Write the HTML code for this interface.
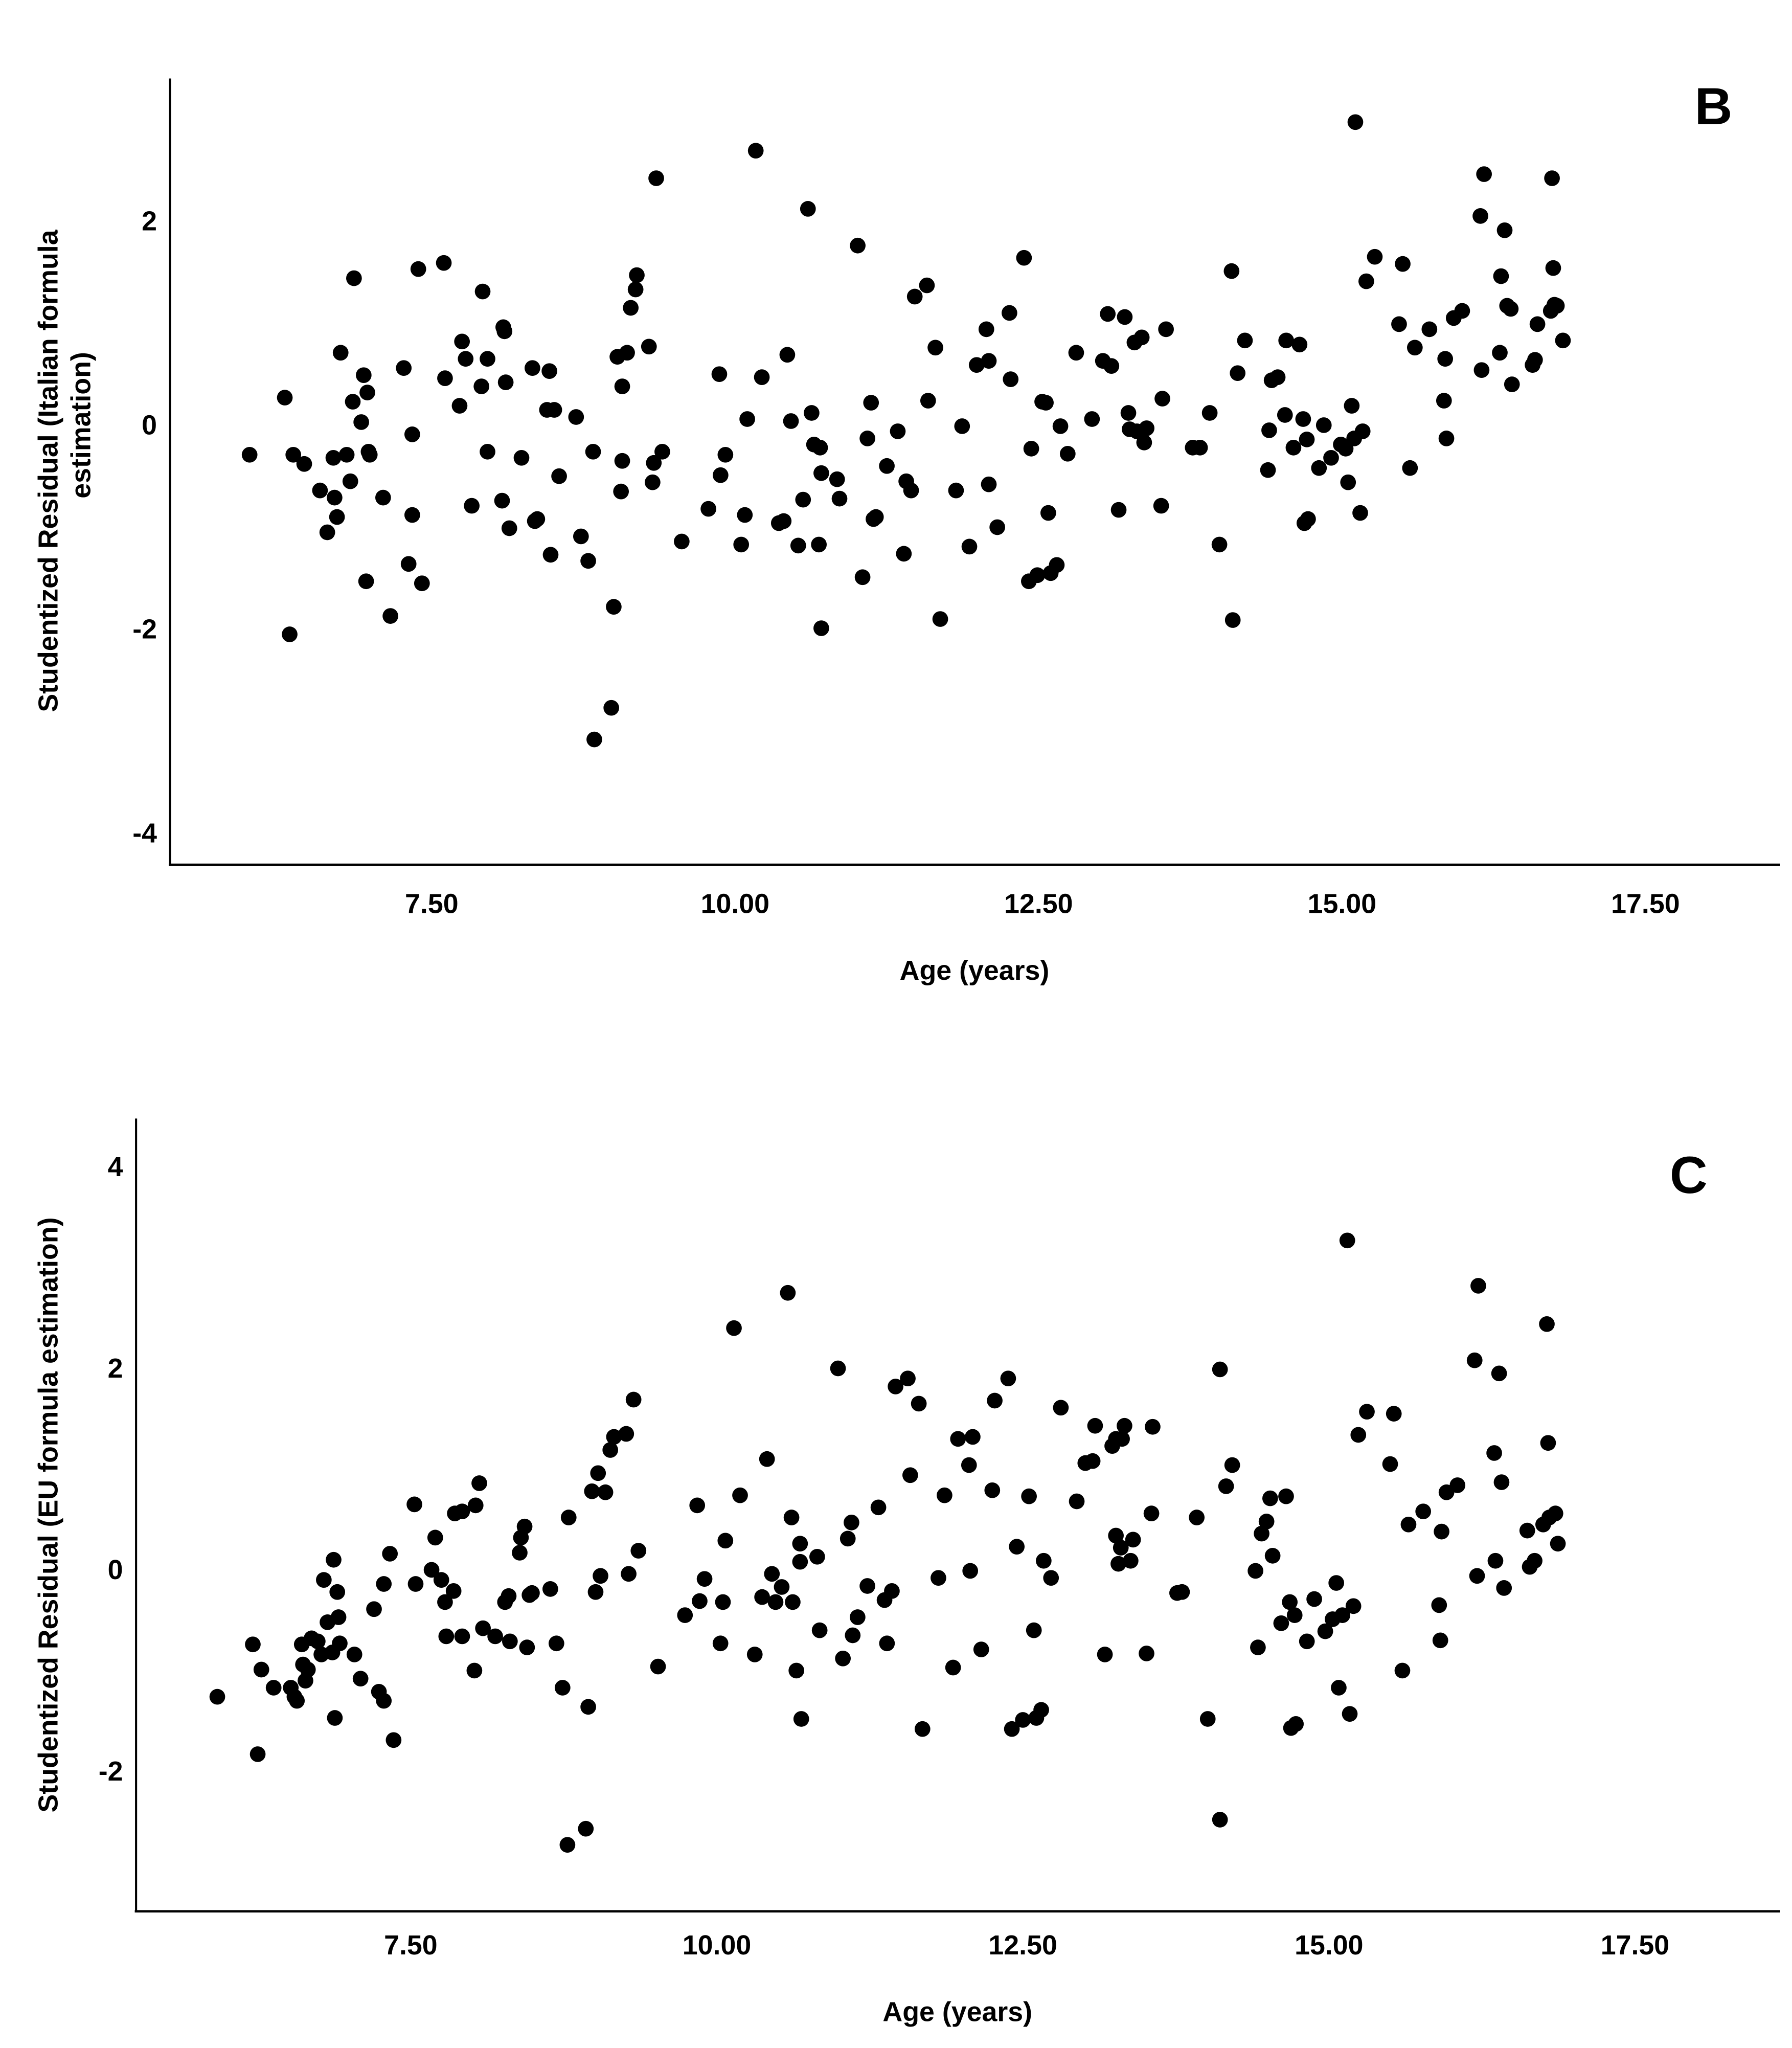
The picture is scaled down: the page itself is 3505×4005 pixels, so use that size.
<!DOCTYPE html>
<html><head><meta charset="utf-8"><style>
html,body{margin:0;padding:0;background:#fff}
svg{display:block}
text{font-family:"Liberation Sans",Arial,sans-serif;fill:#000;font-weight:bold}
</style></head><body>
<svg id="chart" width="3505" height="4005" viewBox="0 0 1370 1565.5" xmlns="http://www.w3.org/2000/svg">
<rect x="0" y="0" width="1370" height="1566" fill="#fff"/>
<g id="panelB">
<line x1="130" y1="60" x2="130" y2="661" stroke="#000" stroke-width="1.6"/>
<line x1="129" y1="661" x2="1361" y2="661" stroke="#000" stroke-width="1.8"/>
<text x="1310" y="95" font-size="40" font-weight="bold" text-anchor="middle">B</text>
<text x="745" y="749" font-size="21" text-anchor="middle">Age (years)</text>
<text transform="translate(44,360) rotate(-90)" font-size="21" text-anchor="middle">Studentized Residual (Italian formula</text>
<text transform="translate(69,325) rotate(-90)" font-size="21" text-anchor="middle">estimation)</text>
</g>
<g id="panelC">
<line x1="104" y1="855" x2="104" y2="1461" stroke="#000" stroke-width="1.6"/>
<line x1="103" y1="1461" x2="1361" y2="1461" stroke="#000" stroke-width="1.8"/>
<text x="1291" y="912" font-size="40" font-weight="bold" text-anchor="middle">C</text>
<text x="732" y="1545" font-size="21" text-anchor="middle">Age (years)</text>
<text transform="translate(44,1158) rotate(-90)" font-size="21" text-anchor="middle">Studentized Residual (EU formula estimation)</text>
</g>
</svg>
<script>
const xTicks=[7.5,10,12.5,15,17.5];
const xTickLabels=["7.50","10.00","12.50","15.00","17.50"];
const yTicksB=[2,0,-2,-4];
const yTicksC=[4,2,0,-2];
const ageB=[6.0,6.29,6.33,6.36,6.45,6.58,6.64,6.69,6.70,6.72,6.75,6.80,6.83,6.85,6.86,6.92,6.94,6.97,6.96,6.98,6.99,7.10,7.16,7.27,7.31,7.34,7.34,7.39,7.42,7.60,7.61,7.73,7.75,7.78,7.83,7.92,7.91,7.96,7.96,8.08,8.09,8.10,8.11,8.14,8.24,8.33,8.35,8.37,8.45,8.47,8.48,8.51,8.55,8.69,8.73,8.79,8.83,8.84,8.98,9.0,9.03,9.06,9.07,9.07,9.11,9.14,9.18,9.19,9.29,9.32,9.33,9.35,9.40,9.56,9.78,9.87,9.88,9.92,10.05,10.08,10.10,10.17,10.22,10.36,10.40,10.43,10.46,10.52,10.56,10.60,10.63,10.65,10.69,10.70,10.71,10.71,10.84,10.86,11.01,11.05,11.09,11.12,11.14,11.16,11.25,11.34,11.39,11.41,11.45,11.48,11.58,11.59,11.65,11.69,11.82,11.87,11.93,11.99,12.07,12.09,12.09,12.16,12.26,12.27,12.38,12.44,12.42,12.49,12.53,12.56,12.58,12.60,12.65,12.68,12.74,12.81,12.94,13.03,13.07,13.10,13.16,13.21,13.24,13.25,13.29,13.31,13.35,13.37,13.39,13.51,13.52,13.55,13.77,13.83,13.91,13.99,14.09,14.10,14.14,14.20,14.39,14.40,14.42,14.47,14.53,14.54,14.60,14.65,14.68,14.69,14.71,14.72,14.81,14.85,14.91,14.99,15.03,15.05,15.08,15.10,15.11,15.15,15.17,15.20,15.27,15.47,15.50,15.56,15.60,15.72,15.84,15.85,15.86,15.92,15.99,16.14,16.15,16.17,16.30,16.31,16.34,16.36,16.39,16.40,16.57,16.59,16.61,16.73,16.72,16.74,16.75,16.77,16.82];
const resB=[-0.29,0.27,-2.05,-0.29,-0.38,-0.64,-1.05,-0.32,-0.71,-0.9,0.71,-0.29,-0.55,0.23,1.44,0.03,0.49,0.32,-1.53,-0.26,-0.29,-0.71,-1.87,0.56,-1.36,-0.88,-0.09,1.53,-1.55,1.59,0.46,0.19,0.82,0.65,-0.79,1.31,0.38,0.65,-0.26,-0.74,0.96,0.92,0.42,-1.01,-0.32,0.56,-0.94,-0.92,0.15,0.53,-1.27,0.15,-0.5,0.08,-1.09,-1.33,-0.26,-3.08,-2.77,-1.78,0.67,-0.65,0.38,-0.35,0.71,1.15,1.33,1.47,0.77,-0.56,-0.37,2.42,-0.26,-1.14,-0.82,0.5,-0.49,-0.29,-1.17,-0.88,0.06,2.69,0.47,-0.96,-0.94,0.69,0.04,-1.18,-0.73,2.12,0.12,-0.19,-1.17,-0.22,-1.99,-0.47,-0.53,-0.72,1.76,-1.49,-0.13,0.22,-0.92,-0.9,-0.4,-0.06,-1.26,-0.55,-0.64,1.26,1.37,0.24,0.76,-1.9,-0.64,-0.01,-1.19,0.59,0.94,0.63,-0.58,-1.0,1.10,0.45,1.64,-0.23,-1.53,-1.47,0.23,0.22,-0.86,-1.45,-1.37,-0.01,-0.28,0.71,0.06,0.63,1.09,0.58,-0.83,1.06,0.12,-0.04,0.81,-0.06,0.86,-0.17,-0.03,-0.79,0.26,0.94,-0.22,-0.22,0.12,-1.17,1.51,-1.91,0.51,0.83,-0.44,-0.05,0.44,0.47,0.1,0.83,-0.22,0.79,0.06,-0.96,-0.14,-0.92,-0.42,0,-0.32,-0.19,-0.23,-0.56,0.19,-0.13,2.97,-0.86,-0.06,1.41,1.65,0.99,1.58,-0.42,0.76,0.94,0.24,0.65,-0.13,1.05,1.12,2.05,0.54,2.46,0.71,1.46,1.91,1.17,1.14,0.40,0.59,0.64,0.99,2.42,1.12,1.54,1.18,1.17,0.83];
const ageC=[5.92,6.21,6.25,6.28,6.38,6.52,6.55,6.57,6.61,6.62,6.64,6.66,6.69,6.74,6.77,6.79,6.82,6.86,6.87,6.88,6.90,6.91,6.92,7.04,7.09,7.20,7.24,7.28,7.28,7.33,7.36,7.53,7.54,7.67,7.70,7.75,7.78,7.79,7.85,7.86,7.92,7.92,8.02,8.03,8.06,8.09,8.19,8.27,8.30,8.31,8.39,8.40,8.43,8.45,8.47,8.49,8.64,8.69,8.74,8.78,8.79,8.93,8.95,8.98,9.01,9.03,9.05,9.09,9.13,9.16,9.26,9.28,9.32,9.36,9.52,9.74,9.84,9.86,9.90,10.03,10.05,10.07,10.14,10.19,10.31,10.37,10.41,10.45,10.48,10.53,10.58,10.61,10.62,10.65,10.68,10.68,10.69,10.82,10.84,10.99,11.03,11.07,11.10,11.11,11.15,11.23,11.32,11.37,11.39,11.43,11.46,11.56,11.58,11.65,11.68,11.81,11.86,11.93,11.97,12.06,12.07,12.09,12.16,12.25,12.27,12.38,12.41,12.45,12.50,12.55,12.59,12.61,12.65,12.67,12.73,12.81,12.94,13.01,13.07,13.09,13.17,13.23,13.26,13.26,13.28,13.30,13.31,13.33,13.38,13.40,13.51,13.55,13.56,13.76,13.80,13.92,14.01,14.11,14.11,14.16,14.21,14.40,14.42,14.45,14.49,14.52,14.54,14.61,14.65,14.68,14.69,14.72,14.73,14.82,14.88,14.97,15.03,15.06,15.08,15.11,15.15,15.17,15.20,15.24,15.31,15.50,15.53,15.60,15.65,15.77,15.90,15.91,15.92,15.96,16.05,16.19,16.21,16.22,16.35,16.36,16.39,16.41,16.43,16.62,16.64,16.68,16.75,16.78,16.79,16.80,16.85,16.87];
const resC=[-1.26,-0.74,-1.83,-0.99,-1.17,-1.17,-1.26,-1.30,-0.74,-0.94,-1.10,-0.99,-0.68,-0.71,-0.84,-0.10,-0.52,-0.82,0.10,-1.47,-0.22,-0.47,-0.73,-0.84,-1.08,-0.39,-1.21,-0.14,-1.30,0.16,-1.69,0.65,-0.14,0.0,0.32,-0.10,-0.32,-0.66,-0.21,0.56,-0.66,0.58,-1.0,0.64,0.86,-0.58,-0.66,-0.32,-0.26,-0.71,0.17,0.32,0.43,-0.77,-0.25,-0.23,-0.19,-0.73,-1.17,-2.73,0.52,-2.57,-1.36,0.78,-0.22,0.96,-0.06,0.77,1.19,1.32,1.35,-0.04,1.69,0.19,-0.96,-0.45,0.64,-0.31,-0.09,-0.73,-0.32,0.29,2.40,0.74,-0.84,-0.27,1.10,-0.04,-0.32,-0.17,2.75,0.52,-0.32,-1.0,0.26,0.08,-1.48,0.13,-0.60,2.0,-0.88,0.31,0.47,-0.65,-0.47,-0.16,0.62,-0.30,-0.73,-0.21,1.82,1.90,0.94,1.65,-1.58,-0.08,0.74,-0.97,1.30,1.04,-0.01,1.32,-0.79,0.79,1.68,1.90,-1.58,0.23,-1.49,0.73,-0.60,-1.47,-1.39,0.09,-0.08,1.61,0.68,1.06,1.08,1.43,-0.84,1.23,1.30,0.34,0.06,0.22,1.30,1.43,0.09,0.30,-0.83,0.56,1.42,-0.23,-0.22,0.52,-1.48,1.99,-2.48,0.83,1.04,-0.01,-0.77,0.36,0.48,0.71,0.14,-0.53,0.73,-0.32,-1.57,-0.45,-1.53,-0.71,-0.29,-0.61,-0.49,-0.13,-1.17,-0.45,3.27,-1.43,-0.36,1.34,1.57,1.05,1.55,-1.0,0.45,0.58,-0.35,-0.70,0.38,0.77,0.84,2.08,-0.06,2.82,1.16,0.09,1.95,0.87,-0.18,0.39,0.03,0.09,0.45,2.44,1.26,0.52,0.56,0.26];

const NS="http://www.w3.org/2000/svg";
const xB=a=>330+(a-7.5)*92.8, yB=r=>325-r*78;
const xC=a=>314+(a-7.5)*93.6, yC=r=>1200-r*77;
function txt(parent,x,y,s,anchor){const t=document.createElementNS(NS,'text');t.setAttribute('x',x);t.setAttribute('y',y);t.setAttribute('font-size','21');t.setAttribute('text-anchor',anchor);t.textContent=s;parent.appendChild(t);return t;}
function draw(gid,ages,res,fx,fy,yTicks,axisX,labelY){
  const g=document.getElementById(gid);
  xTicks.forEach((v,i)=>{const t=txt(g,fx(v),labelY,xTickLabels[i],'middle');
    
    });
  yTicks.forEach(v=>{const t=txt(g,axisX-10,fy(v)+7,String(v),'end');
    
    });
  ages.forEach((a,i)=>{const c=document.createElementNS(NS,'circle');
    c.setAttribute('cx',fx(a));c.setAttribute('cy',fy(res[i]));c.setAttribute('r','6');c.setAttribute('fill','#000');
    
    
    g.appendChild(c);});
}
draw('panelB',ageB,resB,xB,yB,yTicksB,130,698);
draw('panelC',ageC,resC,xC,yC,yTicksC,104,1494);
</script>
</body></html>
